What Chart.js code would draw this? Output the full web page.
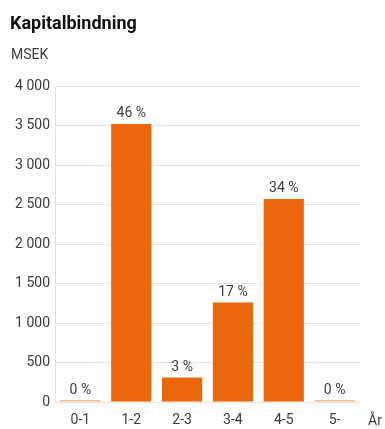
<!DOCTYPE html>
<html>
<head>
<meta charset="utf-8">
<script src="https://cdn.jsdelivr.net/npm/chart.js@4"></script>
<style>
  html, body { margin: 0; padding: 0; background: #fff; }
  #wrap { position: relative; width: 385px; height: 429px; }
</style>
</head>
<body>
<div id="wrap"><canvas id="capChart"></canvas></div>
<script>
// Kapitalbindning per löptid (MSEK)
const periods = ['0-1', '1-2', '2-3', '3-4', '4-5', '5-'];
const amounts = [0, 3520, 310, 1260, 2570, 0];
const shares = ['0 %', '46 %', '3 %', '17 %', '34 %', '0 %'];
const yTicks = [0, 500, 1000, 1500, 2000, 2500, 3000, 3500, 4000];

const orange = '#eb670b';
const paleOrange = '#f4b98d';
const textColor = '#3c3c3c';
const fontFamily = 'Roboto, "Noto Sans", sans-serif';

// rubrik, enhet, procentetiketter och "År"
const annotations = {
    id: 'annotations',
    afterDatasetsDraw(chart) {
        const ctx = chart.ctx;
        const meta = chart.getDatasetMeta(0);
        ctx.save();
        ctx.fillStyle = '#111';
        ctx.font = 'bold 18px ' + fontFamily;
        ctx.textAlign = 'left';
        ctx.textBaseline = 'middle';
        ctx.fillText('Kapitalbindning', 10, 24);

        ctx.fillStyle = textColor;
        ctx.font = '14px ' + fontFamily;
        ctx.fillText('MSEK', 11, 55);

        ctx.textAlign = 'center';
        ctx.textBaseline = 'bottom';
        meta.data.forEach((bar, i) => {
            ctx.fillText(shares[i], bar.x, bar.y - 3);
        });

        const xScale = chart.scales.x;
        ctx.textBaseline = 'middle';
        ctx.fillText('År', 375, xScale.top + 19);
        ctx.restore();
    }
};

new Chart(document.getElementById('capChart'), {
    type: 'bar',
    data: {
        labels: periods,
        datasets: [{
            data: amounts,
            backgroundColor: amounts.map(v => v === 0 ? paleOrange : orange),
            minBarLength: 2,
            barPercentage: 0.79,
            categoryPercentage: 1
        }]
    },
    options: {
        responsive: true,
        maintainAspectRatio: false,
        animation: false,
        layout: { padding: { top: 86, right: 25, bottom: 0, left: 0 } },
        plugins: {
            legend: { display: false },
            title: { display: false },
            tooltip: { enabled: false }
        },
        scales: {
            x: {
                grid: { display: false, drawTicks: false },
                border: { display: false },
                ticks: {
                    color: textColor,
                    font: { family: fontFamily, size: 14 },
                    padding: 10
                },
                afterFit(scale) { scale.height = 27; }
            },
            y: {
                min: 0,
                max: 4000,
                afterBuildTicks(scale) {
                    scale.ticks = yTicks.map(v => ({ value: v }));
                },
                grid: {
                    color: '#e3e3e3',
                    drawTicks: false
                },
                border: { display: true, color: '#e0e0e0' },
                ticks: {
                    color: textColor,
                    font: { family: fontFamily, size: 14 },
                    padding: 5,
                    callback: v => v.toLocaleString('sv-SE').replace(/\s/g, ' ')
                },
                afterFit(scale) { scale.width = 55; }
            }
        }
    },
    plugins: [annotations]
});
</script>
</body>
</html>
